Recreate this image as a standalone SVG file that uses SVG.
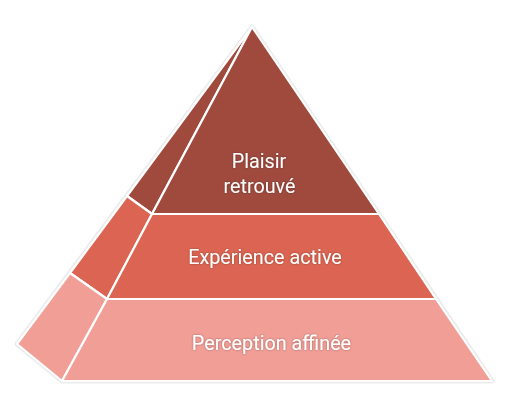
<svg xmlns="http://www.w3.org/2000/svg" width="506" height="408" viewBox="0 0 506 408">
<defs>
<filter id="halo" x="-20%" y="-40%" width="140%" height="180%">
<feDropShadow dx="0" dy="0" stdDeviation="1.2" flood-color="#000" flood-opacity="0.35"/>
</filter>
</defs>
<style>
.face{stroke:#fff;stroke-width:2.2;stroke-linejoin:round}
.t1{fill:#A04A3E}
.t2{fill:#DB6552}
.t3{fill:#F09E96}
.lbl{font-family:Roboto,"Liberation Sans",sans-serif;font-size:19.8px;fill:#fff;text-anchor:middle;filter:url(#halo)}
</style>
<rect width="506" height="408" fill="#fff"/>
<polygon points="252,27 492,381 62,381 17,344" fill="none" stroke="#ebebeb" stroke-width="5" stroke-linejoin="round"/>
<g id="side-top"><polygon class="face t1" points="252,27 152,214 127,196"/></g>
<g id="side-mid"><polygon class="face t2" points="127,196 152,214 107,299 70,273"/></g>
<g id="side-bottom"><polygon class="face t3" points="70,273 107,299 62,381 17,344"/></g>
<g id="tier-top">
<polygon class="face t1" points="252,27 379,214 152,214"/>
<text class="lbl" x="259" y="168">Plaisir</text>
<text class="lbl" x="259.5" y="193">retrouvé</text>
</g>
<g id="tier-mid">
<polygon class="face t2" points="152,214 379,214 436,299 107,299"/>
<text class="lbl" x="265" y="264">Expérience active</text>
</g>
<g id="tier-bottom">
<polygon class="face t3" points="107,299 436,299 492,381 62,381"/>
<text class="lbl" x="271.5" y="350">Perception affinée</text>
</g>
<g id="connectors"/>
</svg>
